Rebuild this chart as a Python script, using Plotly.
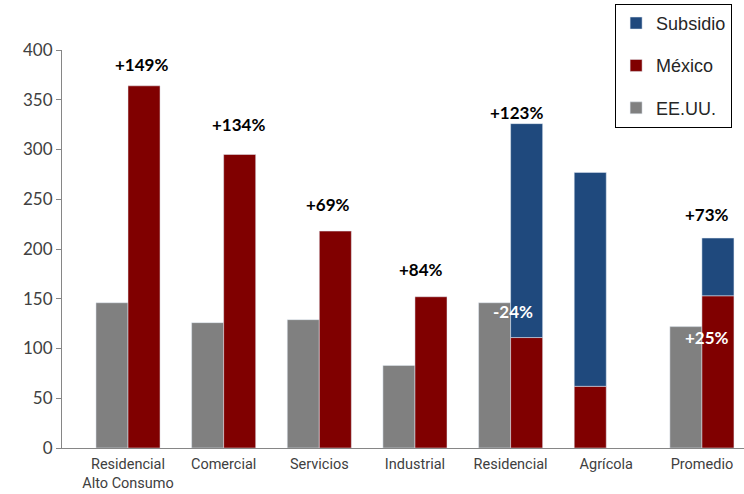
import plotly.graph_objects as go

# Tarifas eléctricas: EE.UU. vs México (con subsidio)
categorias = ["Residencial Alto Consumo", "Comercial", "Servicios", "Industrial",
              "Residencial", "Agrícola", "Promedio"]
etiquetas_x = ["Residencial<br>Alto Consumo", "Comercial", "Servicios", "Industrial",
               "Residencial", "Agrícola", "Promedio"]
eeuu = [146, 126, 129, 83, 146, None, 122]
mexico = [364, 295, 218, 152, 111, 62, 153]
subsidio = [None, None, None, None, 215, 215, 58]

# percentage labels: (category, text, label y in data units, x shift px, colour)
etiquetas = [
    ("Residencial Alto Consumo", "+149%", 385, 13, "black"),
    ("Comercial", "+134%", 325, 15, "black"),
    ("Servicios", "+69%", 245, 9, "black"),
    ("Industrial", "+84%", 179, 6, "black"),
    ("Residencial", "+123%", 337, 6, "black"),
    ("Residencial", "-24%", 137, 2, "white"),
    ("Promedio", "+73%", 235, 5, "black"),
    ("Promedio", "+25%", 111, 5, "white"),
]

GRIS = "#808080"
ROJO = "#800000"
AZUL = "#1F497D"
W = 0.335

# Agrícola has no US bar, so its Mexican bar takes the left slot
off_mx = [-W if c == "Agrícola" else 0 for c in categorias]
base_sub = [m if s is not None else None for m, s in zip(mexico, subsidio)]

fig = go.Figure()
fig.add_trace(go.Bar(x=categorias, y=eeuu, name="EE.UU.", marker_color=GRIS,
                     width=W, offset=-W, legendgroup="a", legendrank=3))
fig.add_trace(go.Bar(x=categorias, y=mexico, name="México", marker_color=ROJO,
                     width=W, offset=off_mx, legendgroup="b", legendrank=2))
fig.add_trace(go.Bar(x=categorias, y=subsidio, base=base_sub, name="Subsidio",
                     marker_color=AZUL, width=W, offset=off_mx, legendgroup="c",
                     legendrank=1))

for cat, txt, yv, dx, col in etiquetas:
    fig.add_annotation(x=cat, y=yv, text="<b>%s</b>" % txt, showarrow=False,
                       xshift=dx, font=dict(family="Lato", size=17, color=col))

fig.update_layout(
    width=744, height=494,
    margin=dict(l=62, r=0, t=50, b=46),
    plot_bgcolor="white", paper_bgcolor="white",
    barmode="overlay",
    showlegend=True,
    legend=dict(x=0.811, y=1.116, xanchor="left", yanchor="top",
                traceorder="grouped", tracegroupgap=16, itemwidth=30,
                bordercolor="black", borderwidth=1, bgcolor="white",
                font=dict(family="Liberation Sans", size=18, color="#262626")),
    xaxis=dict(type="category", categoryorder="array", categoryarray=categorias,
               tickvals=categorias, ticktext=etiquetas_x, automargin=False,
               range=[-0.69, 6.44], showline=True, linecolor="#868686",
               linewidth=1, ticks="", showgrid=False, ticklabelstandoff=3,
               tickfont=dict(family="Roboto", size=14.5, color="#404040")),
    yaxis=dict(range=[0, 400], tickvals=[0, 50, 100, 150, 200, 250, 300, 350, 400],
               showline=True, linecolor="#868686", linewidth=1, ticks="outside",
               ticklen=5, tickcolor="#868686", showgrid=False, zeroline=False,
               automargin=False,
               tickfont=dict(family="Lato", size=17, color="#404040")),
)

fig.write_html("out.html")
